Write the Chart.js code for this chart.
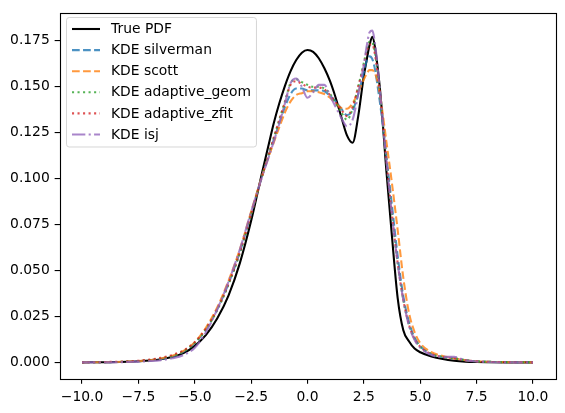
<!DOCTYPE html>
<html>
<head>
<meta charset="utf-8">
<script src="https://cdn.jsdelivr.net/npm/chart.js"></script>
<style>
  html, body { margin: 0; padding: 0; background: #ffffff; }
  #wrap { width: 565px; height: 413px; position: relative; }
  canvas { display: block; }
</style>
</head>
<body>
<div id="wrap"><canvas id="c" width="565" height="413"></canvas></div>
<script>
// ---- data ----
const xs = [-10, -9, -8, -7.5, -7, -6.5, -6, -5.5, -5, -4.5, -4, -3.5, -3, -2.5, -2,
  -1.75, -1.5, -1.25, -1, -0.75, -0.5, -0.25, 0, 0.25, 0.5, 0.75, 1, 1.25, 1.5, 1.75, 2,
  2.25, 2.5, 2.625, 2.75, 2.875, 3, 3.125, 3.25, 3.5, 3.75, 4, 4.25, 4.5, 4.75, 5,
  5.5, 6, 6.5, 7, 7.5, 8, 9, 10];

const truePdf = [0.0000, 0.0001, 0.0003, 0.0006, 0.0010, 0.0017, 0.0029, 0.0050, 0.0090, 0.0150, 0.0240, 0.0365, 0.0540, 0.0770, 0.1040,
  0.1170, 0.1300, 0.1410, 0.1505, 0.1585, 0.1645, 0.1685, 0.1700, 0.1690, 0.1655, 0.1600, 0.1530, 0.1440, 0.1335, 0.1235, 0.1195,
  0.1340, 0.1560, 0.1645, 0.1725, 0.1772, 0.1710, 0.1590, 0.1440, 0.1040, 0.0680, 0.0350, 0.0175, 0.0115, 0.0075, 0.0055,
  0.0032, 0.0018, 0.0009, 0.0004, 0.0002, 0.0001, 0.0000, 0.0000];

const kdeSilverman = [0.0000, 0.0001, 0.0003, 0.0006, 0.0011, 0.0019, 0.0032, 0.0058, 0.0105, 0.0180, 0.0290, 0.0430, 0.0600, 0.0810, 0.1020,
  0.1115, 0.1210, 0.1300, 0.1390, 0.1460, 0.1490, 0.1490, 0.1480, 0.1480, 0.1480, 0.1475, 0.1450, 0.1420, 0.1380, 0.1345, 0.1370,
  0.1460, 0.1580, 0.1640, 0.1665, 0.1650, 0.1590, 0.1490, 0.1380, 0.1120, 0.0850, 0.0580, 0.0360, 0.0220, 0.0135, 0.0088,
  0.0045, 0.0030, 0.0022, 0.0012, 0.0006, 0.0003, 0.0001, 0.0000];

const kdeScott = [0.0000, 0.0001, 0.0004, 0.0007, 0.0012, 0.0021, 0.0036, 0.0062, 0.0110, 0.0190, 0.0300, 0.0445, 0.0615, 0.0820, 0.1020,
  0.1110, 0.1195, 0.1280, 0.1360, 0.1420, 0.1455, 0.1465, 0.1475, 0.1475, 0.1470, 0.1460, 0.1440, 0.1410, 0.1385, 0.1380, 0.1410,
  0.1470, 0.1540, 0.1570, 0.1590, 0.1590, 0.1570, 0.1520, 0.1430, 0.1200, 0.0970, 0.0720, 0.0460, 0.0270, 0.0165, 0.0105,
  0.0055, 0.0035, 0.0022, 0.0012, 0.0006, 0.0003, 0.0001, 0.0000];

const kdeAdaptiveGeom = [0.0000, 0.0001, 0.0004, 0.0007, 0.0012, 0.0020, 0.0034, 0.0060, 0.0105, 0.0180, 0.0285, 0.0425, 0.0595, 0.0805, 0.1020,
  0.1120, 0.1220, 0.1320, 0.1420, 0.1520, 0.1540, 0.1525, 0.1510, 0.1500, 0.1500, 0.1490, 0.1460, 0.1410, 0.1360, 0.1320, 0.1380,
  0.1500, 0.1630, 0.1700, 0.1745, 0.1740, 0.1680, 0.1560, 0.1420, 0.1100, 0.0800, 0.0540, 0.0340, 0.0205, 0.0128, 0.0085,
  0.0045, 0.0030, 0.0022, 0.0012, 0.0006, 0.0003, 0.0001, 0.0000];

const kdeAdaptiveZfit = [0.0000, 0.0002, 0.0005, 0.0009, 0.0015, 0.0025, 0.0040, 0.0065, 0.0110, 0.0185, 0.0290, 0.0430, 0.0600, 0.0805, 0.1020,
  0.1120, 0.1220, 0.1320, 0.1415, 0.1510, 0.1530, 0.1515, 0.1500, 0.1495, 0.1495, 0.1485, 0.1455, 0.1415, 0.1375, 0.1340, 0.1390,
  0.1500, 0.1620, 0.1690, 0.1730, 0.1730, 0.1670, 0.1555, 0.1420, 0.1100, 0.0800, 0.0540, 0.0340, 0.0205, 0.0128, 0.0085,
  0.0045, 0.0030, 0.0022, 0.0012, 0.0006, 0.0003, 0.0001, 0.0000];

const kdeIsj = [0.0000, 0.0000, 0.0002, 0.0004, 0.0007, 0.0012, 0.0022, 0.0040, 0.0080, 0.0165, 0.0290, 0.0440, 0.0615, 0.0820, 0.1015,
  0.1105, 0.1200, 0.1300, 0.1410, 0.1520, 0.1545, 0.1500, 0.1440, 0.1470, 0.1510, 0.1510, 0.1450, 0.1390, 0.1330, 0.1285, 0.1320,
  0.1460, 0.1620, 0.1720, 0.1795, 0.1805, 0.1730, 0.1590, 0.1430, 0.1100, 0.0800, 0.0540, 0.0340, 0.0200, 0.0122, 0.0080,
  0.0040, 0.0030, 0.0030, 0.0012, 0.0005, 0.0002, 0.0000, 0.0000];

const seriesLabels = ['True PDF', 'KDE silverman', 'KDE scott', 'KDE adaptive_geom', 'KDE adaptive_zfit', 'KDE isj'];
const xTicks = [-10, -7.5, -5, -2.5, 0, 2.5, 5, 7.5, 10];
const yTicks = [0, 0.025, 0.05, 0.075, 0.1, 0.125, 0.15, 0.175];

// ---- styles ----
const PX = 100 / 72; // points to pixels
const LW = 1.5 * PX;
const styles = [
  { color: '#000000', dash: [] },
  { color: 'rgba(31,119,180,0.8)', dash: [3.7 * LW, 1.6 * LW] },
  { color: 'rgba(255,127,14,0.8)', dash: [3.7 * LW, 1.6 * LW] },
  { color: 'rgba(44,160,44,0.8)', dash: [1 * LW, 1.65 * LW] },
  { color: 'rgba(214,39,40,0.8)', dash: [1 * LW, 1.65 * LW] },
  { color: 'rgba(148,103,189,0.8)', dash: [6.4 * LW, 1.6 * LW, 1 * LW, 1.6 * LW] }
];
const allSeries = [truePdf, kdeSilverman, kdeScott, kdeAdaptiveGeom, kdeAdaptiveZfit, kdeIsj];

const datasets = allSeries.map((arr, i) => ({
  label: seriesLabels[i],
  data: xs.map((x, k) => ({ x: x, y: arr[k] })),
  borderColor: styles[i].color,
  borderDash: styles[i].dash,
  borderWidth: LW,
  pointRadius: 0,
  fill: false,
  tension: 0,
  cubicInterpolationMode: 'monotone',
  order: allSeries.length - i
}));

const FONT = { family: 'DejaVu Sans', size: 10 * PX };
const minus = s => s.replace('-', '\u2212');

const framePlugin = {
  id: 'frame',
  afterDatasetsDraw(chart) {
    const a = chart.chartArea, ctx = chart.ctx;
    ctx.save();
    ctx.strokeStyle = '#000';
    ctx.lineWidth = 0.8 * PX;
    ctx.strokeRect(Math.round(a.left) + 0.5, Math.round(a.top) + 0.5,
      Math.round(a.right) - Math.round(a.left), Math.round(a.bottom) - Math.round(a.top));
    ctx.restore();
  }
};

const legendPlugin = {
  id: 'mplLegend',
  afterDraw(chart) {
    const ctx = chart.ctx;
    const fs = 10 * PX;
    ctx.save();
    ctx.font = fs + 'px "DejaVu Sans"';
    let maxW = 0;
    chart.data.datasets.forEach(ds => { maxW = Math.max(maxW, ctx.measureText(ds.label).width); });
    const x0 = 66.5, y0 = 17.5;
    const textX = 111;
    const w = textX + maxW + 0.4 * fs - x0;
    const h = 129.5;
    const r = 0.2 * fs;
    ctx.beginPath();
    ctx.moveTo(x0 + r, y0);
    ctx.lineTo(x0 + w - r, y0);
    ctx.quadraticCurveTo(x0 + w, y0, x0 + w, y0 + r);
    ctx.lineTo(x0 + w, y0 + h - r);
    ctx.quadraticCurveTo(x0 + w, y0 + h, x0 + w - r, y0 + h);
    ctx.lineTo(x0 + r, y0 + h);
    ctx.quadraticCurveTo(x0, y0 + h, x0, y0 + h - r);
    ctx.lineTo(x0, y0 + r);
    ctx.quadraticCurveTo(x0, y0, x0 + r, y0);
    ctx.closePath();
    ctx.fillStyle = 'rgba(255,255,255,0.8)';
    ctx.fill();
    ctx.strokeStyle = 'rgba(204,204,204,0.8)';
    ctx.lineWidth = 1;
    ctx.stroke();
    chart.data.datasets.forEach((ds, i) => {
      const y = 29 + i * 21.1;
      ctx.save();
      ctx.strokeStyle = ds.borderColor;
      ctx.lineWidth = ds.borderWidth;
      ctx.setLineDash(ds.borderDash || []);
      ctx.beginPath();
      ctx.moveTo(72, y);
      ctx.lineTo(100, y);
      ctx.stroke();
      ctx.restore();
      ctx.fillStyle = '#000';
      ctx.textBaseline = 'middle';
      ctx.textAlign = 'left';
      ctx.fillText(ds.label, textX, y + 0.5);
    });
    ctx.restore();
  }
};

new Chart(document.getElementById('c'), {
  type: 'line',
  data: { datasets: datasets },
  options: {
    responsive: false,
    animation: false,
    events: [],
    layout: { padding: { top: 11, right: 9.5, left: 0, bottom: 0 } },
    plugins: { legend: { display: false }, tooltip: { enabled: false }, title: { display: false } },
    scales: {
      x: {
        type: 'linear',
        min: -11,
        max: 11,
        afterBuildTicks: s => { s.ticks = xTicks.map(v => ({ value: v })); },
        afterFit: s => { s.height = 34; },
        border: { display: false },
        grid: { display: true, drawOnChartArea: false, drawTicks: true, tickLength: 3.5 * PX, color: '#000', lineWidth: 0.8 * PX },
        ticks: {
          autoSkip: false, maxRotation: 0, padding: 3.5 * PX, color: '#000', font: FONT,
          callback: v => minus(Number(v).toFixed(1))
        }
      },
      y: {
        type: 'linear',
        min: -0.00905,
        max: 0.19,
        afterBuildTicks: s => { s.ticks = yTicks.map(v => ({ value: v })); },
        afterFit: s => { s.width = 59.5; },
        border: { display: false },
        grid: { display: true, drawOnChartArea: false, drawTicks: true, tickLength: 3.5 * PX, color: '#000', lineWidth: 0.8 * PX },
        ticks: {
          autoSkip: false, padding: 3.5 * PX, color: '#000', font: FONT,
          callback: v => Number(v).toFixed(3)
        }
      }
    }
  },
  plugins: [framePlugin, legendPlugin]
});
</script>
</body>
</html>
